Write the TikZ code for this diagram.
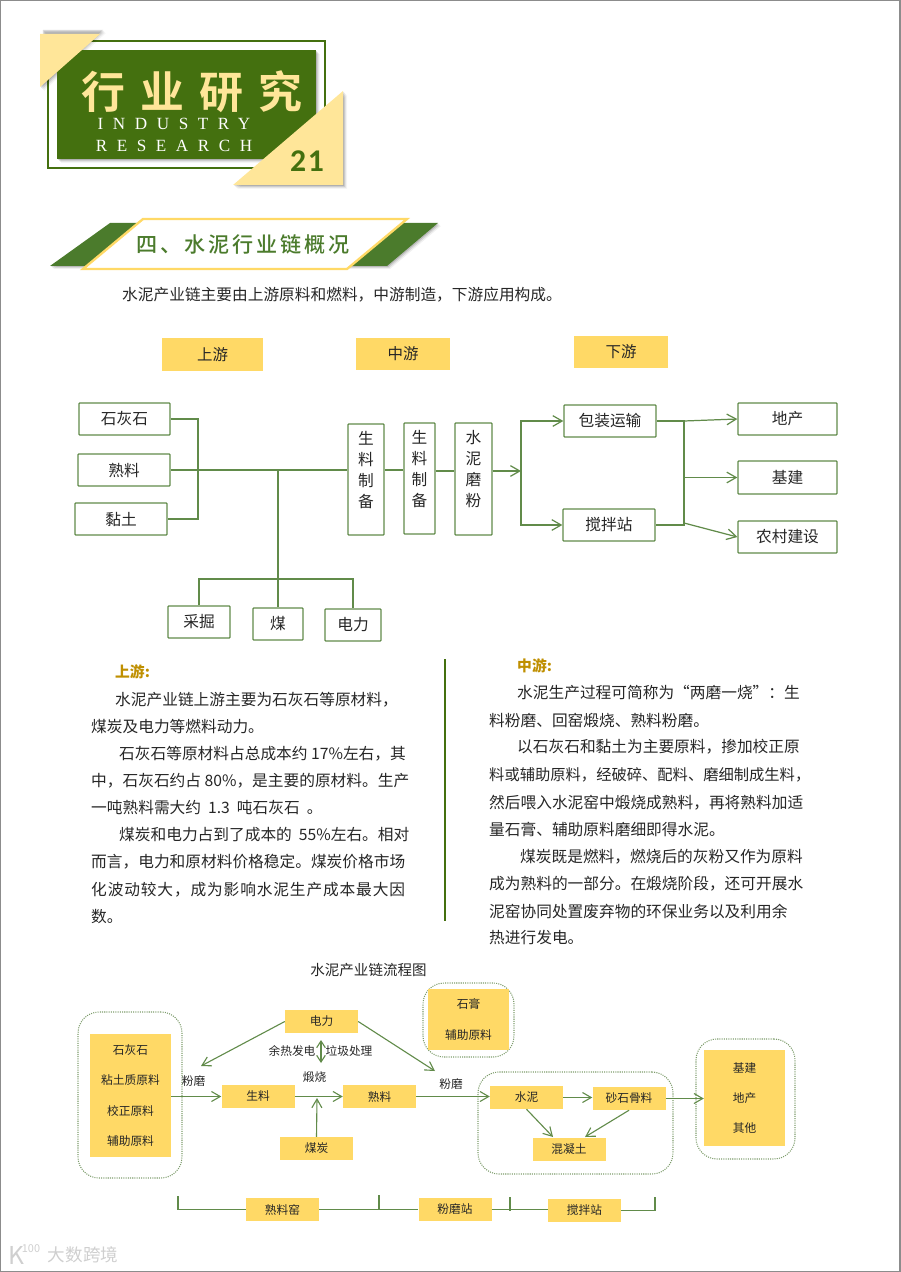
\documentclass[tikz,border=0pt]{standalone}
\usepackage{fontspec}
\usepackage{xcolor}
\usepackage{tikz}
\usetikzlibrary{arrows.meta, positioning, calc}
\setmainfont{Noto Sans CJK SC}
\newfontfamily\headfont[LetterSpace=34]{Noto Sans CJK SC Bold}
\newfontfamily\sectfont[LetterSpace=14]{Noto Sans CJK SC Medium}
\newfontfamily\latinfont[LetterSpace=56]{Liberation Serif}
\newfontfamily\pagefont[LetterSpace=5]{Carlito Bold}
\newfontfamily\wideline[LetterSpace=5.5]{Noto Sans CJK SC}
\definecolor{leaf}{HTML}{44700F}
\definecolor{sect}{HTML}{4B7B2C}
\definecolor{sand}{HTML}{FFE699}
\definecolor{gold}{HTML}{FFD966}
\definecolor{ochre}{HTML}{BF8F00}
\definecolor{wire}{HTML}{618B4A}
\definecolor{dots}{HTML}{7E9C6C}
\definecolor{ink}{HTML}{262626}
\definecolor{edge}{HTML}{8C8C8C}
\definecolor{mark}{HTML}{CFCFCF}
\tikzset{
  x=0.03cm, y=-0.03cm,
  wh/.style 2 args={minimum width=#1*0.03cm, minimum height=#2*0.03cm},
  tag/.style={rectangle, fill=gold, text=ink, inner sep=0pt, font=\fontsize{13.2}{16}\selectfont},
  box/.style={rectangle, draw=wire, fill=white, line width=1.1pt, rounded corners=0.6pt, text=ink, inner sep=0pt, align=center, font=\fontsize{13.4}{17.9}\selectfont},
  cell/.style={rectangle, fill=gold, text=ink, inner sep=0pt, align=center, font=\fontsize{10}{25.8}\selectfont},
  grp/.style={rectangle, rounded corners=18pt, draw=dots, densely dotted, line width=0.9pt},
  bodyl/.style={anchor=west, inner sep=0pt, text=ink, text height=11.5pt, text depth=1.5pt, font=\fontsize{13.4}{16}\selectfont},
  head/.style={anchor=west, inner sep=0pt, text=ochre, font=\fontsize{12.6}{15}\bfseries\selectfont},
  note/.style={inner sep=0pt, text=ink, font=\fontsize{10}{12}\selectfont},
  lnk/.style={draw=wire, line width=1.05pt},
  flow/.style={lnk, -{Straight Barb[length=2.8mm,width=3.2mm]}},
  thin/.style={draw=wire, line width=0.95pt},
  thinflow/.style={thin, -{Straight Barb[length=2.6mm,width=3mm]}},
}
\begin{document}
\begin{tikzpicture}
  \useasboundingbox (0,0) rectangle (900,1272);
  \draw[edge, line width=1.5pt] (0,0) rectangle (900,1271.5);

  % title plate
  \draw[leaf, line width=1.5pt] (48,41) rectangle (325,168);
  \foreach \d/\o in {1/0.14,2/0.10,3/0.07,4/0.04}{
    \fill[black, opacity=\o] ($(57,50)+(\d,\d)$) rectangle ($(316,159)+(\d,\d)$);
    \fill[black, opacity=\o] ($(46,31)+(\d-4,\d-2)$) -- ($(102,31)+(\d,\d-2)$) -- ($(40,87)+(\d,\d)$) -- cycle;
    \fill[black, opacity=\o] ($(343,91)+(\d,\d)$) -- ($(343,185)+(\d,\d)$) -- ($(233,185)+(\d,\d)$) -- cycle;
  }
  \fill[leaf] (57,50) rectangle (316,159);
  \fill[sand] (40,34) -- (100,34) -- (40,87) -- cycle;
  \fill[sand] (343,91) -- (343,185) -- (233,185) -- cycle;
  \node[inner sep=0pt, text=sand, font=\fontsize{37.5}{44}\headfont] (ttl) at (192,92) {行业研究};
  \node[inner sep=0pt, text=white, font=\fontsize{14.6}{16}\latinfont] (ttlA) at (174,124) {INDUSTRY};
  \node[inner sep=0pt, text=white, font=\fontsize{14.6}{16}\latinfont] (ttlB) at (174,146) {RESEARCH};
  \node[inner sep=0pt, text=leaf, font=\fontsize{27}{30}\pagefont] (pg) at (307,161) {21};

  % section banner
  \foreach \d/\o in {1/0.14,2/0.10,3/0.06}{
    \fill[black, opacity=\o] ($(50,266)+(\d,\d)$) -- ($(110,223)+(\d,\d)$) -- ($(438,223)+(\d,\d)$) -- ($(387,266)+(\d,\d)$) -- cycle;
  }
  \fill[sect] (50,266) -- (110,223) -- (438,223) -- (387,266) -- cycle;
  \filldraw[fill=white, draw=gold, line width=2pt] (83,269) -- (143,219) -- (407,219) -- (347,269) -- cycle;
  \node[inner sep=0pt, text=sect, font=\fontsize{18}{20}\sectfont] (sec) at (243,244) {四、水泥行业链概况};

  \node[bodyl] (intro) at (122,295) {水泥产业链主要由上游原料和燃料，中游制造，下游应用构成。};

  % upper chain
  \node[tag, wh={101}{33}] (up) at (212.5,354.5) {上游};
  \node[tag, wh={94}{32}] (mid) at (403,354) {中游};
  \node[tag, wh={94}{32}] (down) at (621,352) {下游};

  \node[box, wh={91}{32}] (lime) at (124.5,419) {石灰石};
  \node[box, wh={92}{32}] (clink) at (124,470) {熟料};
  \node[box, wh={92}{32}] (clay) at (121,519) {黏土};
  \node[box, wh={36}{111}] (prepA) at (366,479.5) {生\\料\\制\\备\\~};
  \node[box, wh={31}{111}] (prepB) at (419.5,478.5) {生\\料\\制\\备\\~};
  \node[box, wh={37}{112}] (mill) at (473.5,479) {水\\泥\\磨\\粉\\~};
  \node[box, wh={62}{32}] (mine) at (199,622) {采掘};
  \node[box, wh={50}{32}] (coal) at (278,624) {煤};
  \node[box, wh={56}{32}] (power) at (353,625) {电力};
  \node[box, wh={92}{32}] (pack) at (610,421) {包装运输};
  \node[box, wh={92}{32}] (mix) at (609,525) {搅拌站};
  \node[box, wh={99}{32}] (prop) at (787.5,419) {地产};
  \node[box, wh={99}{33}] (infra) at (787.5,477.5) {基建};
  \node[box, wh={99}{32}] (rural) at (787.5,537) {农村建设};

  \coordinate (jA) at (198,470);
  \coordinate (jB) at (278,470);
  \coordinate (jC) at (278,579);
  \coordinate (jD) at (521,471);
  \coordinate (jE) at (684,421);
  \coordinate (jF) at (684,525);

  \draw[lnk] (lime.east) -| (jA) |- (clay.east);
  \draw[lnk] (clink.east) -- (clink.east -| prepA.west);
  \draw[lnk] (prepA.east |- jA) -- (prepB.west |- jA);
  \draw[lnk] (prepB.east |- jD) -- (mill.west |- jD);
  \draw[lnk] (jB) -- (coal.north);
  \draw[lnk] (mine.north) |- (jC) -| (power.north);
  \draw[flow] (mill.east |- jD) -- (jD);
  \draw[flow] (jD) |- (pack.west);
  \draw[flow] (jD) |- (mix.west);
  \draw[lnk] (pack.east) -- (jE) -- (jF) -- (mix.east);
  \draw[flow] (jE) -- (prop.west);
  \draw[flow] (jE |- infra) -- (infra.west);
  \draw[flow] ($(jF)+(0,-2)$) -- (rural.west);

  % two text columns
  \node[head] (upHd) at (115,672) {上游:};
  \foreach \tx/\ty/\tline [count=\i] in {
    115/700/水泥产业链上游主要为石灰石等原材料，,
    91/727/煤炭及电力等燃料动力。,
    119/754/石灰石等原材料占总成本约 17\%左右，其,
    91/781/中，石灰石约占 80\%，是主要的原材料。生产,
    91/808/一吨熟料需大约~~1.3~~吨石灰石~~。,
    119/835/煤炭和电力占到了成本的~~55\%左右。相对,
    91/862/而言，电力和原材料价格稳定。煤炭价格市场,
    91/890/{\wideline 化波动较大，成为影响水泥生产成本最大因},
    91/917/数。}{
    \node[bodyl] (upL\i) at (\tx,\ty) {\tline};
  }
  \coordinate (sepT) at (445,659);
  \coordinate (sepB) at (445,921);
  \draw[draw=leaf, line width=1.2pt] (sepT) -- (sepB);
  \node[head] (midHd) at (517,666) {中游:};
  \foreach \tx/\ty/\tline [count=\i] in {
    517/693/水泥生产过程可简称为“两磨一烧”：生,
    489/721/料粉磨、回窑煅烧、熟料粉磨。,
    517/747/以石灰石和黏土为主要原料，掺加校正原,
    489/775/{\fontsize{13.05}{16}\selectfont 料或辅助原料，经破碎、配料、磨细制成生料，},
    489/803/然后喂入水泥窑中煅烧成熟料，再将熟料加适,
    489/830/量石膏、辅助原料磨细即得水泥。,
    520/857/煤炭既是燃料，燃烧后的灰粉又作为原料,
    489/884/成为熟料的一部分。在煅烧阶段，还可开展水,
    489/912/泥窑协同处置废弃物的环保业务以及利用余,
    489/938/热进行发电。}{
    \node[bodyl] (midL\i) at (\tx,\ty) {\tline};
  }

  % flow chart
  \node[inner sep=0pt, text=ink, font=\fontsize{12.4}{15}\selectfont] (flowTtl) at (368.5,970) {水泥产业链流程图};

  \node[grp, wh={104}{166}] (grpRaw) at (130,1095) {};
  \node[grp, wh={91}{74}] (grpGyp) at (468.5,1020) {};
  \node[grp, wh={195}{102}] (grpCem) at (575.5,1123) {};
  \node[grp, wh={99}{120}] (grpUse) at (745.5,1099) {};

  \node[cell, wh={81}{123}] (raw) at (130.5,1095.5) {石灰石\\粘土质原料\\校正原料\\辅助原料};
  \node[cell, wh={81}{61}] (gyp) at (468.5,1019.5) {石膏\\辅助原料};
  \node[cell, wh={81}{96}] (use) at (744.5,1098) {基建\\地产\\其他};
  \node[cell, wh={73}{23}] (meal) at (258,1096.5) {生料};
  \node[cell, wh={73}{23}] (clk) at (379.5,1096.5) {熟料};
  \node[cell, wh={73}{23}] (elec) at (321.5,1021.5) {电力};
  \node[cell, wh={73}{23}] (fuel) at (316.5,1148.5) {煤炭};
  \node[cell, wh={73}{23}] (cem) at (526.5,1097.5) {水泥};
  \node[cell, wh={73}{23}] (sand) at (629,1098.5) {砂石骨料};
  \node[cell, wh={73}{23}] (conc) at (569,1149.5) {混凝土};
  \node[cell, wh={73}{23}] (kiln) at (282.5,1209.5) {熟料窑};
  \node[cell, wh={73}{23}] (grind) at (455,1209.5) {粉磨站};
  \node[cell, wh={73}{23}] (plant) at (584.5,1210.5) {搅拌站};

  \node[note] (lbA) at (193.5,1081) {粉磨};
  \node[note] (lbB) at (451,1084) {粉磨};
  \node[note] (lbC) at (314.5,1077) {煅烧};
  \node[note] (lbD) at (292,1051) {余热发电};
  \node[note] (lbE) at (349,1051) {垃圾处理};

  \coordinate (hitL) at (201,1066);
  \coordinate (hitR) at (435,1071);
  \coordinate (dblT) at (321,1040);
  \coordinate (dblB) at (321,1063);
  \coordinate (coalHit) at (317,1098);
  \coordinate (brA) at (178,1196);
  \coordinate (brB) at (379,1195);
  \coordinate (brC) at (510,1197);
  \coordinate (brD) at (655,1197);

  \draw[thinflow] (elec.west) -- (hitL);
  \draw[thinflow] (elec.east) -- (hitR);
  \draw[wire, line width=0.95pt, {Straight Barb[length=2mm,width=2.6mm]}-{Straight Barb[length=2mm,width=2.6mm]}] (dblT) -- (dblB);
  \draw[thinflow] (raw.east |- meal) -- (meal.west);
  \draw[thinflow] (meal.east) -- (clk.west);
  \draw[thinflow] (fuel.north) -- (coalHit);
  \draw[thinflow] (clk.east) -- (clk.east -| cem.west);
  \draw[thinflow] (cem.east) -- (cem.east -| sand.west);
  \draw[thinflow] (sand.east) -- (sand.east -| use.west);
  \draw[thinflow] (cem.south) -- (553,1137);
  \draw[thinflow] (sand.south) -- (585,1137);

  \draw[thin] (brA) |- (kiln.west);
  \draw[thin] (kiln.east) -- (grind.west);
  \draw[thin] (brB) -- (brB |- grind);
  \draw[thin] (grind.east) -- (grind.east -| plant.west);
  \draw[thin] (brC) -- ($(brC)+(0,14)$);
  \draw[thin] (plant.east) -| (brD);

  % watermark
  \node[inner sep=0pt, text=mark, font=\fontsize{21}{24}\selectfont] (wmK) at (16,1255) {K};
  \node[inner sep=0pt, text=mark, font=\fontsize{9.3}{10}\selectfont] (wmN) at (31,1249) {100};
  \node[inner sep=0pt, text=mark, font=\fontsize{15}{18}\selectfont] (wmT) at (83,1255) {大数跨境};
\end{tikzpicture}
\end{document}
